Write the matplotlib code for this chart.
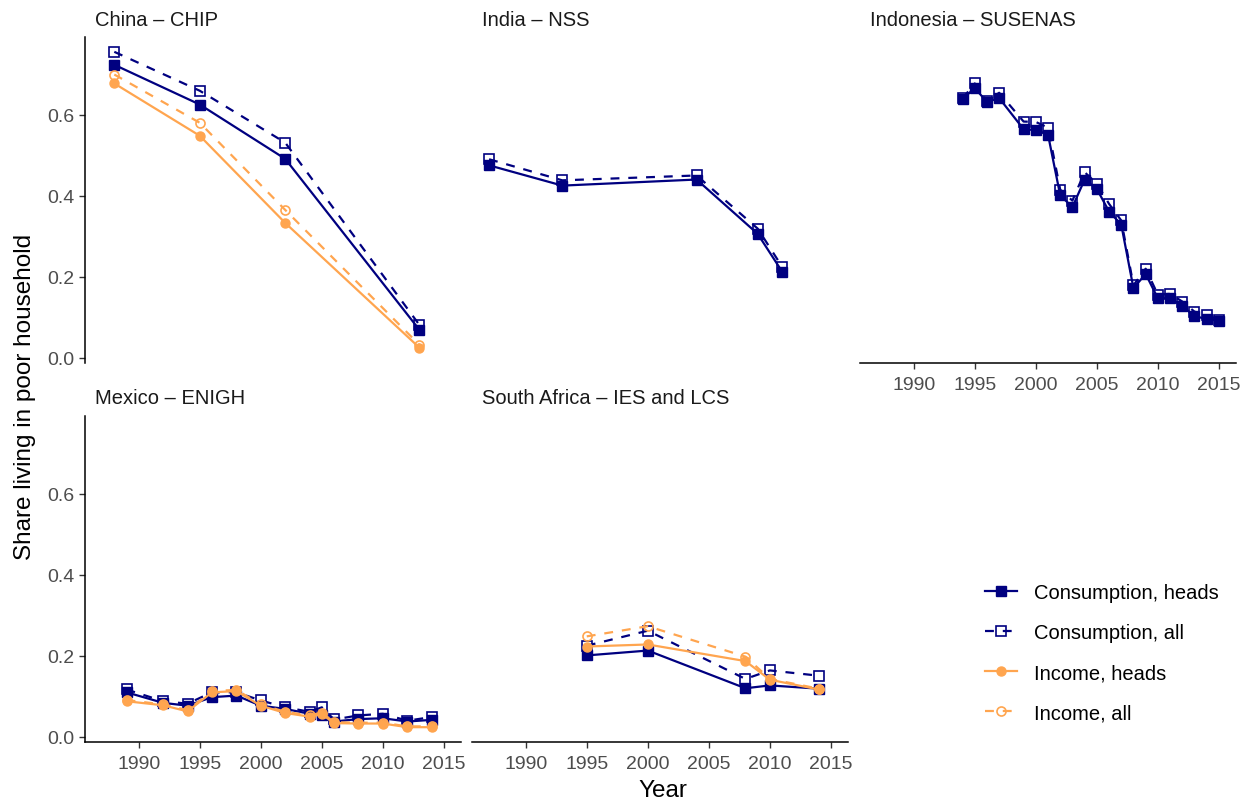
import numpy as np
import matplotlib
matplotlib.use("Agg")
import matplotlib.pyplot as plt
from matplotlib.lines import Line2D

plt.rcParams['font.family'] = ['Liberation Sans', 'DejaVu Sans']

# ---- data ----
china_years = [1988, 1995, 2002, 2013]
china_cons_heads = [0.723, 0.625, 0.491, 0.069]
china_cons_all = [0.755, 0.659, 0.531, 0.081]
china_inc_heads = [0.677, 0.548, 0.333, 0.025]
china_inc_all = [0.699, 0.580, 0.365, 0.032]

india_years = [1987, 1993, 2004, 2009, 2011]
india_cons_heads = [0.475, 0.425, 0.440, 0.306, 0.213]
india_cons_all = [0.490, 0.438, 0.450, 0.319, 0.225]

indo_years = [1994, 1995, 1996, 1997, 1999, 2000, 2001, 2002, 2003, 2004, 2005,
              2006, 2007, 2008, 2009, 2010, 2011, 2012, 2013, 2014, 2015]
indo_cons_heads = [0.638, 0.666, 0.631, 0.641, 0.564, 0.562, 0.551, 0.401, 0.372, 0.440, 0.417,
                   0.361, 0.329, 0.172, 0.207, 0.147, 0.147, 0.128, 0.103, 0.096, 0.092]
indo_cons_all = [0.640, 0.677, 0.633, 0.654, 0.583, 0.582, 0.568, 0.415, 0.388, 0.458, 0.430,
                 0.380, 0.339, 0.179, 0.220, 0.156, 0.158, 0.139, 0.114, 0.106, 0.094]

mex_years = [1989, 1992, 1994, 1996, 1998, 2000, 2002, 2004, 2005, 2006, 2008, 2010, 2012, 2014]
mex_cons_heads = [0.110, 0.084, 0.077, 0.098, 0.102, 0.077, 0.069, 0.057, 0.055, 0.038, 0.044, 0.046, 0.038, 0.042]
mex_cons_all = [0.117, 0.088, 0.082, 0.110, 0.110, 0.090, 0.073, 0.062, 0.073, 0.043, 0.053, 0.057, 0.040, 0.049]
mex_inc_heads = [0.088, 0.078, 0.063, 0.110, 0.113, 0.077, 0.059, 0.050, 0.056, 0.034, 0.033, 0.033, 0.024, 0.024]
mex_inc_all = [0.091, 0.080, 0.066, 0.113, 0.116, 0.080, 0.062, 0.053, 0.060, 0.036, 0.035, 0.035, 0.026, 0.026]

sa_years = [1995, 2000, 2008, 2010, 2014]
sa_cons_heads = [0.201, 0.213, 0.120, 0.127, 0.119]
sa_cons_all = [0.225, 0.262, 0.143, 0.164, 0.151]
sa_inc_heads = [0.223, 0.228, 0.187, 0.141, 0.117]
sa_inc_all = [0.248, 0.273, 0.198, 0.143, 0.119]

series_names = ["Consumption, heads", "Consumption, all", "Income, heads", "Income, all"]
x_ticks = [1990, 1995, 2000, 2005, 2010, 2015]
y_ticks = [0.0, 0.2, 0.4, 0.6]

panels = [
    ("China \u2013 CHIP", china_years, [china_cons_heads, china_cons_all, china_inc_heads, china_inc_all]),
    ("India \u2013 NSS", india_years, [india_cons_heads, india_cons_all, None, None]),
    ("Indonesia \u2013 SUSENAS", indo_years, [indo_cons_heads, indo_cons_all, None, None]),
    ("Mexico \u2013 ENIGH", mex_years, [mex_cons_heads, mex_cons_all, mex_inc_heads, mex_inc_all]),
    ("South Africa \u2013 IES and LCS", sa_years, [sa_cons_heads, sa_cons_all, sa_inc_heads, sa_inc_all]),
]

NAVY = "#000080"
ORANGE = "#FFA54F"
styles = [
    dict(color=NAVY, ls="-", marker="s", ms=7.2, mfc=NAVY, mec=NAVY),
    dict(color=NAVY, ls=(0, (4, 4)), marker="s", ms=7.2, mfc="none", mec=NAVY, mew=1.2),
    dict(color=ORANGE, ls="-", marker="o", ms=6.5, mfc=ORANGE, mec=ORANGE),
    dict(color=ORANGE, ls=(0, (4, 4)), marker="o", ms=6.5, mfc="none", mec=ORANGE, mew=1.2),
]

# shared limits with ggplot-like 5% expansion
all_years = np.concatenate([np.array(p[1]) for p in panels])
all_vals = np.concatenate([np.array(v) for p in panels for v in p[2] if v is not None])
xr = all_years.max() - all_years.min()
yr = all_vals.max() - all_vals.min()
xlim = (all_years.min() - 0.05 * xr, all_years.max() + 0.05 * xr)
ylim = (all_vals.min() - 0.05 * yr, all_vals.max() + 0.05 * yr)

W, H = 1253, 804
fig = plt.figure(figsize=(W / 100, H / 100), dpi=100)

col_left = [85, 472, 860]
panel_w = 376
row_top = [38, 417]
panel_h = 326

for i, (title, years, vals) in enumerate(panels):
    r, c = divmod(i, 3)
    left, top = col_left[c], row_top[r]
    ax = fig.add_axes([left / W, 1 - (top + panel_h) / H, panel_w / W, panel_h / H])
    for v, st in zip(vals, styles):
        if v is None:
            continue
        ax.plot(years, v, lw=1.6, **st)
    ax.set_xlim(xlim)
    ax.set_ylim(ylim)
    for s in ["top", "right"]:
        ax.spines[s].set_visible(False)
    ax.spines["left"].set_linewidth(1.1)
    ax.spines["bottom"].set_linewidth(1.1)
    ax.tick_params(length=4.5, width=1.0, color="#333333", labelcolor="#4D4D4D", labelsize=14, pad=3)
    ax.tick_params(axis="x", pad=5)
    ax.set_xticks(x_ticks)
    ax.set_yticks(y_ticks)
    ax.set_yticklabels([f"{t:.1f}" for t in y_ticks])
    if c != 0:
        ax.spines["left"].set_visible(False)
        ax.tick_params(axis="y", left=False, labelleft=False)
    # bottom axis only where nothing sits below
    if r == 0 and c in (0, 1):
        ax.spines["bottom"].set_visible(False)
        ax.tick_params(axis="x", bottom=False, labelbottom=False)
    fig.text((left + 10) / W, 1 - (top - 18) / H, title, fontsize=14.5, color="#1A1A1A",
             ha="left", va="center")

fig.text(25 / W, 1 - 397 / H, "Share living in poor household", rotation=90,
         fontsize=17.5, ha="center", va="center")
fig.text(663 / W, 1 - 791 / H, "Year", fontsize=17.5, ha="center", va="center")

handles = [Line2D([], [], lw=1.6, **st) for st in styles]
fig.legend(handles, series_names, loc="upper left", bbox_to_anchor=(985 / W, 1 - 584 / H),
           frameon=False, fontsize=14.5, handlelength=1.6, handletextpad=0.85,
           labelspacing=1.05, borderpad=0, borderaxespad=0)

fig.savefig("out.png", dpi=100)
